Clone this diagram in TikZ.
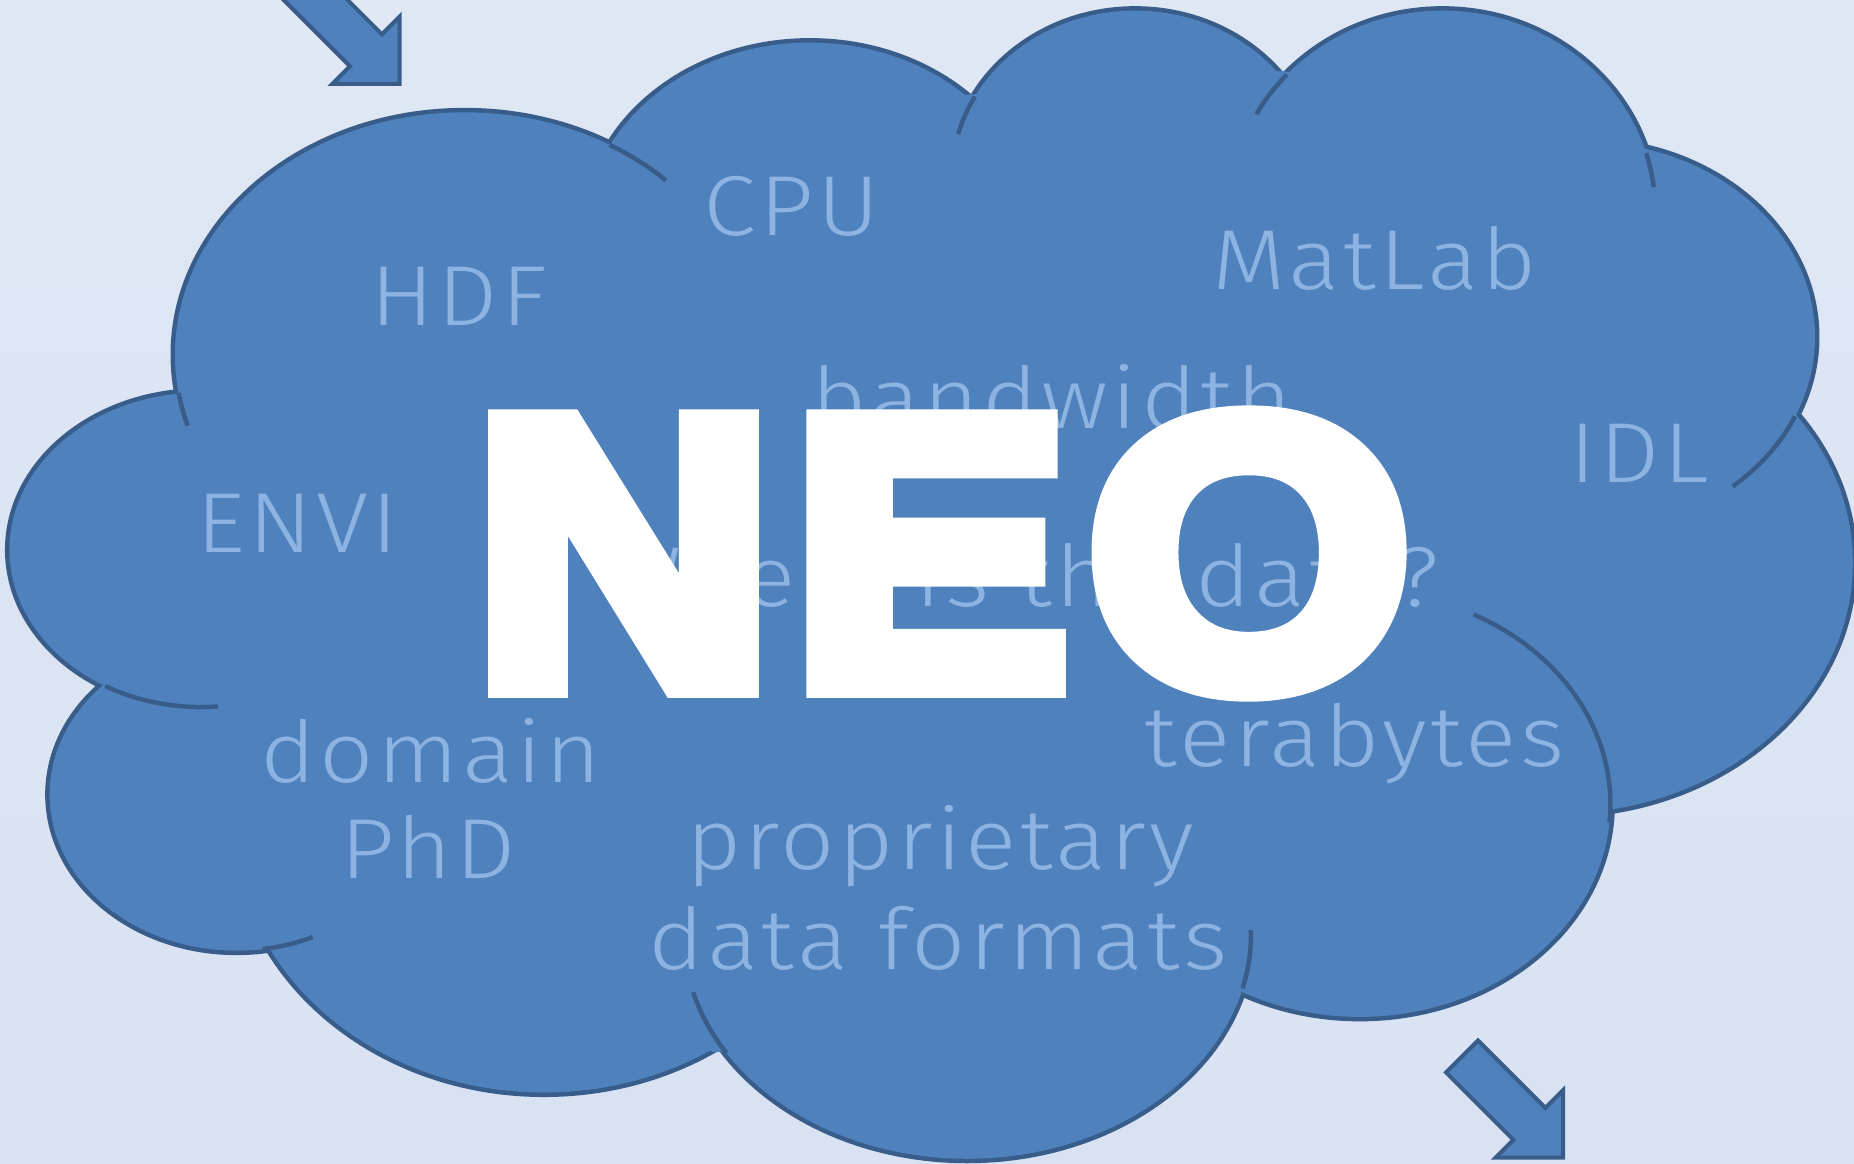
\documentclass[tikz,border=0pt]{standalone}
\usepackage{fontspec}
\newfontfamily\lightfont{Fira Sans Light}[LetterSpace=4,FakeStretch=1.12]
\newfontfamily\neofont{Liberation Sans Bold}[FakeBold=7,FakeStretch=1.09,LetterSpace=5]
\definecolor{bgtop}{HTML}{DFE7F4}
\definecolor{bgbot}{HTML}{D9E2F3}
\definecolor{cloudfill}{HTML}{4F81BD}
\definecolor{cloudline}{HTML}{385D8A}
\definecolor{wordcol}{HTML}{8DB3E2}
\begin{document}
\begin{tikzpicture}[x=1pt,y=-1pt,
  outline/.style={draw=cloudline,line width=7.6pt},
  lobefill/.style={fill=cloudfill},
  tail/.style={draw=cloudline,line width=3.8pt},
  word/.style={text=wordcol,font=\fontsize{72}{80}\selectfont\lightfont,inner sep=0pt,anchor=base west},
  blockarrow/.style={fill=cloudfill,draw=cloudline,line width=3.4pt,line join=miter}]
\useasboundingbox (0,0) rectangle (1568,984);
\clip (0,0) rectangle (1568,984);
\shade[top color=bgtop,bottom color=bgbot] (0,0) rectangle (1568,984);
% cloud lobes: outline first, then fill to hide inner strokes
\foreach \cx/\cy/\rx/\ry in {393/300/245/205,685/196/190/160,960/150/155/141,1220/179/180/170,1340/285/195/165,1318/476/249/212,1150/680/212/180,818/790/240/190,460/696/262/228,200/672/158/132,170/465/162/133}
  \path[outline] (\cx,\cy) ellipse [x radius=\rx, y radius=\ry];
\foreach \cx/\cy/\rx/\ry in {393/300/245/205,685/196/190/160,960/150/155/141,1220/179/180/170,1340/285/195/165,1318/476/249/212,1150/680/212/180,818/790/240/190,460/696/262/228,200/672/158/132,170/465/162/133}
  \path[lobefill] (\cx,\cy) ellipse [x radius=\rx, y radius=\ry];
\fill[cloudfill] (150,332) -- (515,122) -- (820,80) -- (1085,60) -- (1395,130) -- (1520,352) -- (1360,688) -- (1040,835) -- (605,890) -- (222,800) -- (90,578) -- cycle;
% inner tails
\foreach \cx/\cy/\rx/\ry/\a/\b in {393/300/245/205/163/171,393/300/245/205/-60/-46,960/150/155/141/195/209,1220/179/180/170/209/223,1220/179/180/170/-17/-7,1340/285/195/165/24/50,1150/680/212/180/-63/5,818/790/240/190/-1/14,818/790/240/190/148/165,200/672/158/132/66/82,170/465/162/133/85/120}
  \draw[tail] plot[domain=\a:\b,samples=25,variable=\u] ({\cx+\rx*cos(\u)},{\cy+\ry*sin(\u)});
% block arrows
\draw[blockarrow] (95,-145) -- (296,56) -- (281,71) -- (338,71) -- (338,14) -- (323,29) -- (122,-172) -- cycle;
\draw[blockarrow] (1223,907) -- (1280,964) -- (1265,979) -- (1322,979) -- (1322,922) -- (1307,937) -- (1250,880) -- cycle;
% words
\node[word] (cpu) at (595,199) {CPU};
\node[word] (hdf) at (313,275) {HDF};
\node[word] (matlab) at (1025,245) {MatLab};
\node[word] (idl) at (1327,408) {IDL};
\node[word] (envi) at (166,467) {ENVI};
\node[word] (bandwidth) at (686,362) {bandwidth};
\node[word,anchor=base east] (where) at (1217,513) {Where is the data?};
\node[word] (terabytes) at (968,648) {terabytes};
\node[word] (domain) at (220,662) {domain};
\node[word] (phd) at (288,743) {PhD};
\node[word] (propr) at (580,735) {proprietary};
\node[word] (formats) at (548,820) {data formats};
% title
\node[text=white,font=\fontsize{322}{322}\selectfont\neofont,inner sep=0pt,anchor=base] (neo) at (797,579) {NEO};
\end{tikzpicture}
\end{document}
